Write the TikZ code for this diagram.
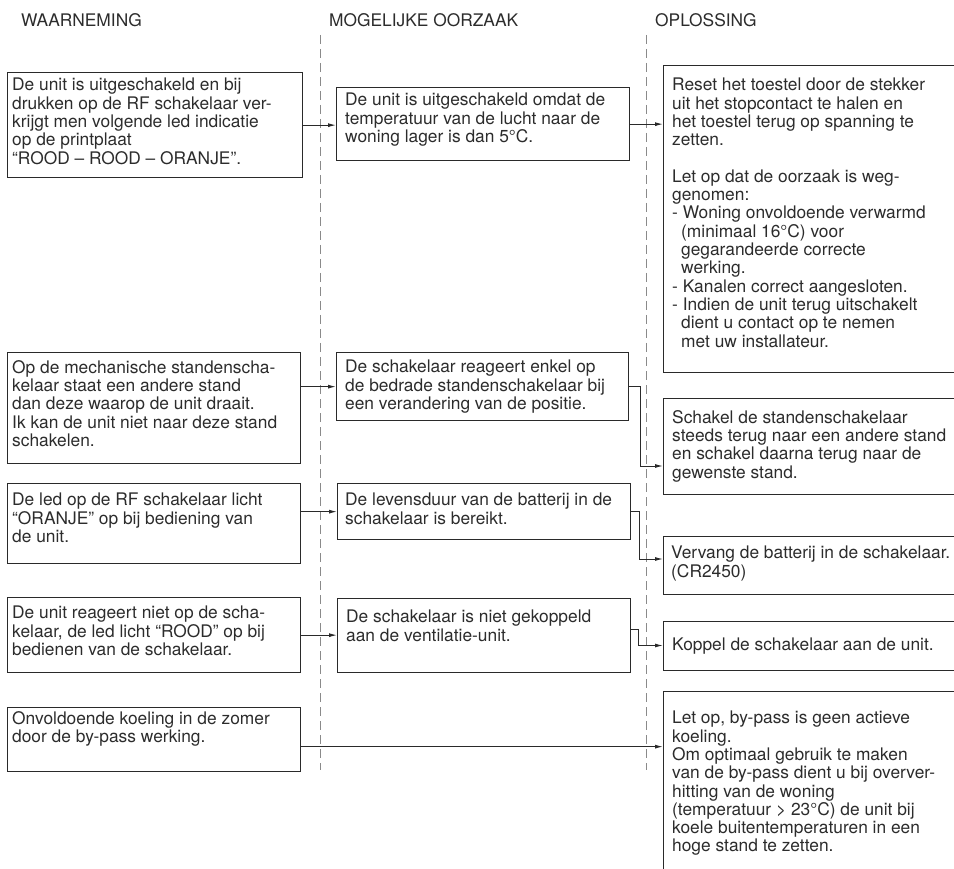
\documentclass[tikz,border=0pt]{standalone}
\usepackage{fontspec}
\setmainfont{TeX Gyre Heros}
\usetikzlibrary{arrows.meta}
\definecolor{boxc}{HTML}{2A2A2A}
\definecolor{txtc}{HTML}{2C2C2C}
\definecolor{sepc}{HTML}{8A8A8A}
\begin{document}
\begin{tikzpicture}[x=1pt,y=-1pt,
  box/.style={draw=boxc, line width=1.3pt, inner sep=0pt, anchor=north west},
  txt/.style={anchor=north west, inner sep=0pt, align=left, text=txtc, font=\fontsize{17.35}{18.3}\selectfont},
  hdr/.style={anchor=base west, inner sep=0pt, text=txtc, font=\fontsize{17.35}{18.3}\selectfont},
  sepline/.style={draw=sepc, line width=0.8pt, dash pattern=on 9pt off 5pt},
  arr/.style={draw=boxc, line width=1pt, -{Latex[length=8pt,width=4pt]}}]
\useasboundingbox[fill=white] (0,0) rectangle (954,869);

% headers
\node[hdr] (h1) at (21,27) {WAARNEMING};
\node[hdr] (h2) at (329,27) {MOGELIJKE OORZAAK};
\node[hdr] (h3) at (655,27) {OPLOSSING};

% separators
\draw[sepline] (320,35) -- (320,770);
\draw[sepline] (646,35) -- (646,770);

% row 1
\node[box, minimum width=295pt, minimum height=105pt] (L1) at (7,72) {};
\node[txt] (L1t) at (12,78) {De unit is uitgeschakeld en bij\\drukken op de RF schakelaar ver-\\krijgt men volgende led indicatie\\op de printplaat\\“ROOD – ROOD – ORANJE”.};
\node[box, minimum width=293pt, minimum height=73pt] (M1) at (336,87) {};
\node[txt] (M1t) at (345,93) {De unit is uitgeschakeld omdat de\\temperatuur van de lucht naar de\\woning lager is dan 5°C.};
\node[box, minimum width=300pt, minimum height=307pt] (R1) at (663,65) {};
\node[txt] (R1t) at (672,78) {Reset het toestel door de stekker\\uit het stopcontact te halen en\\het toestel terug op spanning te\\zetten.\\[18.3pt]Let op dat de oorzaak is weg-\\genomen:\\- Woning onvoldoende verwarmd\\\hspace*{9pt}(minimaal 16°C) voor\\\hspace*{9pt}gegarandeerde correcte\\\hspace*{9pt}werking.\\- Kanalen correct aangesloten.\\- Indien de unit terug uitschakelt\\\hspace*{9pt}dient u contact op te nemen\\\hspace*{9pt}met uw installateur.};

% row 2
\node[box, minimum width=293pt, minimum height=111pt] (L2) at (7,352) {};
\node[txt] (L2t) at (12,360) {Op de mechanische standenscha-\\kelaar staat een andere stand\\dan deze waarop de unit draait.\\Ik kan de unit niet naar deze stand\\schakelen.};
\node[box, minimum width=292pt, minimum height=68pt] (M2) at (336,352) {};
\node[txt] (M2t) at (345,360) {De schakelaar reageert enkel op\\de bedrade standenschakelaar bij\\een verandering van de positie.};
\node[box, minimum width=300pt, minimum height=96pt] (R2) at (663,398) {};
\node[txt] (R2t) at (672,410) {Schakel de standenschakelaar\\steeds terug naar een andere stand\\en schakel daarna terug naar de\\gewenste stand.};

% row 3
\node[box, minimum width=293pt, minimum height=80pt] (L3) at (7,483) {};
\node[txt] (L3t) at (12,493) {De led op de RF schakelaar licht\\“ORANJE” op bij bediening van\\de unit.};
\node[box, minimum width=293pt, minimum height=56pt] (M3) at (337,483) {};
\node[txt] (M3t) at (345,493) {De levensduur van de batterij in de\\schakelaar is bereikt.};
\node[box, minimum width=300pt, minimum height=58pt] (R3) at (663,536) {};
\node[txt] (R3t) at (671,546) {Vervang de batterij in de schakelaar.\\(CR2450)};

% row 4
\node[box, minimum width=293pt, minimum height=75pt] (L4) at (7,597) {};
\node[txt] (L4t) at (12,606) {De unit reageert niet op de scha-\\kelaar, de led licht “ROOD” op bij\\bedienen van de schakelaar.};
\node[box, minimum width=293pt, minimum height=74pt] (M4) at (337,598) {};
\node[txt] (M4t) at (346,610) {De schakelaar is niet gekoppeld\\aan de ventilatie-unit.};
\node[box, minimum width=300pt, minimum height=49pt] (R4) at (663,621) {};
\node[txt] (R4t) at (672,638) {Koppel de schakelaar aan de unit.};

% row 5
\node[box, minimum width=293pt, minimum height=64pt] (L5) at (7,707) {};
\node[txt] (L5t) at (12,711) {Onvoldoende koeling in de zomer\\door de by-pass werking.};
\node[box, minimum width=300pt, minimum height=200pt] (R5) at (663,691) {};
\node[txt] (R5t) at (672,711) {Let op, by-pass is geen actieve\\koeling.\\Om optimaal gebruik te maken\\van de by-pass dient u bij overver-\\hitting van de woning\\(temperatuur > 23°C) de unit bij\\koele buitentemperaturen in een\\hoge stand te zetten.};

% connectors
\coordinate (k2) at (640,466);
\coordinate (k3) at (639,559);
\coordinate (k4) at (638,645.5);
\draw[arr] (L1.east) -- (L1.east -| M1.west);
\draw[arr] (M1.east) -- (M1.east -| R1.west);
\draw[arr] (L2.east |- M2.west) -- (M2.west);
\draw[arr] (M2.east) -| (k2) -- (k2 -| R2.west);
\draw[arr] (L3.east |- M3.west) -- (M3.west);
\draw[arr] (M3.east) -| (k3) -- (k3 -| R3.west);
\draw[arr] (L4.east) -- (L4.east -| M4.west);
\draw[arr] ([yshift=6pt]M4.east) -| (k4) -- (k4 -| R4.west);
\draw[arr] ([yshift=-7pt]L5.east) -- ([yshift=-7pt]L5.east -| R5.west);
\end{tikzpicture}
\end{document}
